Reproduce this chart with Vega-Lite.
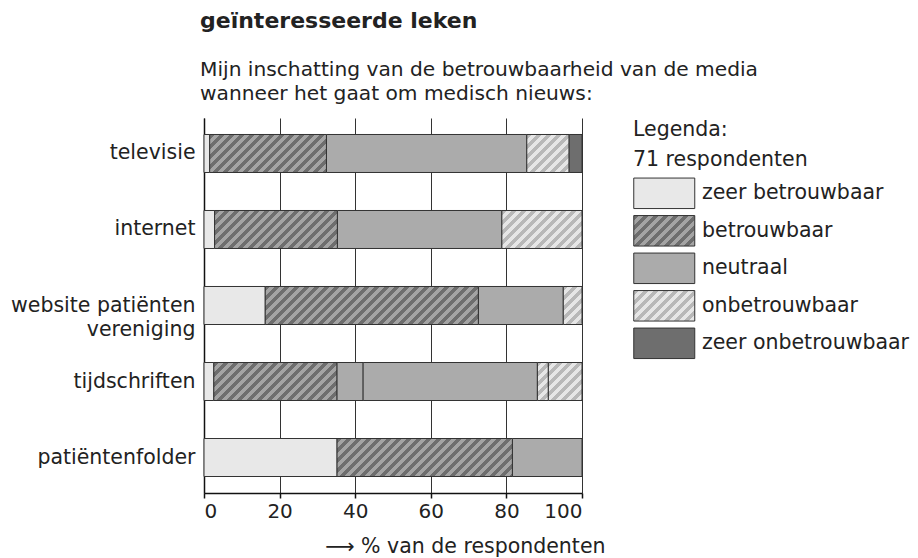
{
  "$schema": "https://vega.github.io/schema/vega-lite/v6.json",
  "width": 378,
  "height": 375,
  "autosize": {"type": "none"},
  "padding": {"left": 204, "top": 118, "right": 336, "bottom": 65},
  "background": "white",
  "config": {"font": "DejaVu Sans", "view": {"stroke": null}},
  "title": {
    "text": "geïnteresseerde leken",
    "subtitle": ["Mijn inschatting van de betrouwbaarheid van de media", "wanneer het gaat om medisch nieuws:"],
    "anchor": "start",
    "frame": "group",
    "font": "DejaVu Sans",
    "fontSize": 22,
    "fontWeight": "bold",
    "color": "#222",
    "subtitleFont": "DejaVu Sans",
    "subtitleFontSize": 20.2,
    "subtitleColor": "#222",
    "subtitleLineHeight": 23.5,
    "subtitlePadding": 27.5,
    "offset": 13,
    "dx": -4
  },
  "params": [
    {"name": "stripesB", "value": [
      {"offset":0,"color":"#6e6e6e"},{"offset":0.02,"color":"#6e6e6e"},{"offset":0.02,"color":"#a4a4a4"},{"offset":0.04,"color":"#a4a4a4"},
      {"offset":0.04,"color":"#6e6e6e"},{"offset":0.06,"color":"#6e6e6e"},{"offset":0.06,"color":"#a4a4a4"},{"offset":0.08,"color":"#a4a4a4"},
      {"offset":0.08,"color":"#6e6e6e"},{"offset":0.1,"color":"#6e6e6e"},{"offset":0.1,"color":"#a4a4a4"},{"offset":0.12,"color":"#a4a4a4"},
      {"offset":0.12,"color":"#6e6e6e"},{"offset":0.14,"color":"#6e6e6e"},{"offset":0.14,"color":"#a4a4a4"},{"offset":0.16,"color":"#a4a4a4"},
      {"offset":0.16,"color":"#6e6e6e"},{"offset":0.18,"color":"#6e6e6e"},{"offset":0.18,"color":"#a4a4a4"},{"offset":0.2,"color":"#a4a4a4"},
      {"offset":0.2,"color":"#6e6e6e"},{"offset":0.22,"color":"#6e6e6e"},{"offset":0.22,"color":"#a4a4a4"},{"offset":0.24,"color":"#a4a4a4"},
      {"offset":0.24,"color":"#6e6e6e"},{"offset":0.26,"color":"#6e6e6e"},{"offset":0.26,"color":"#a4a4a4"},{"offset":0.28,"color":"#a4a4a4"},
      {"offset":0.28,"color":"#6e6e6e"},{"offset":0.3,"color":"#6e6e6e"},{"offset":0.3,"color":"#a4a4a4"},{"offset":0.32,"color":"#a4a4a4"},
      {"offset":0.32,"color":"#6e6e6e"},{"offset":0.34,"color":"#6e6e6e"},{"offset":0.34,"color":"#a4a4a4"},{"offset":0.36,"color":"#a4a4a4"},
      {"offset":0.36,"color":"#6e6e6e"},{"offset":0.38,"color":"#6e6e6e"},{"offset":0.38,"color":"#a4a4a4"},{"offset":0.4,"color":"#a4a4a4"},
      {"offset":0.4,"color":"#6e6e6e"},{"offset":0.42,"color":"#6e6e6e"},{"offset":0.42,"color":"#a4a4a4"},{"offset":0.44,"color":"#a4a4a4"},
      {"offset":0.44,"color":"#6e6e6e"},{"offset":0.46,"color":"#6e6e6e"},{"offset":0.46,"color":"#a4a4a4"},{"offset":0.48,"color":"#a4a4a4"},
      {"offset":0.48,"color":"#6e6e6e"},{"offset":0.5,"color":"#6e6e6e"},{"offset":0.5,"color":"#a4a4a4"},{"offset":0.52,"color":"#a4a4a4"},
      {"offset":0.52,"color":"#6e6e6e"},{"offset":0.54,"color":"#6e6e6e"},{"offset":0.54,"color":"#a4a4a4"},{"offset":0.56,"color":"#a4a4a4"},
      {"offset":0.56,"color":"#6e6e6e"},{"offset":0.58,"color":"#6e6e6e"},{"offset":0.58,"color":"#a4a4a4"},{"offset":0.6,"color":"#a4a4a4"},
      {"offset":0.6,"color":"#6e6e6e"},{"offset":0.62,"color":"#6e6e6e"},{"offset":0.62,"color":"#a4a4a4"},{"offset":0.64,"color":"#a4a4a4"},
      {"offset":0.64,"color":"#6e6e6e"},{"offset":0.66,"color":"#6e6e6e"},{"offset":0.66,"color":"#a4a4a4"},{"offset":0.68,"color":"#a4a4a4"},
      {"offset":0.68,"color":"#6e6e6e"},{"offset":0.7,"color":"#6e6e6e"},{"offset":0.7,"color":"#a4a4a4"},{"offset":0.72,"color":"#a4a4a4"},
      {"offset":0.72,"color":"#6e6e6e"},{"offset":0.74,"color":"#6e6e6e"},{"offset":0.74,"color":"#a4a4a4"},{"offset":0.76,"color":"#a4a4a4"},
      {"offset":0.76,"color":"#6e6e6e"},{"offset":0.78,"color":"#6e6e6e"},{"offset":0.78,"color":"#a4a4a4"},{"offset":0.8,"color":"#a4a4a4"},
      {"offset":0.8,"color":"#6e6e6e"},{"offset":0.82,"color":"#6e6e6e"},{"offset":0.82,"color":"#a4a4a4"},{"offset":0.84,"color":"#a4a4a4"},
      {"offset":0.84,"color":"#6e6e6e"},{"offset":0.86,"color":"#6e6e6e"},{"offset":0.86,"color":"#a4a4a4"},{"offset":0.88,"color":"#a4a4a4"},
      {"offset":0.88,"color":"#6e6e6e"},{"offset":0.9,"color":"#6e6e6e"},{"offset":0.9,"color":"#a4a4a4"},{"offset":0.92,"color":"#a4a4a4"},
      {"offset":0.92,"color":"#6e6e6e"},{"offset":0.94,"color":"#6e6e6e"},{"offset":0.94,"color":"#a4a4a4"},{"offset":0.96,"color":"#a4a4a4"},
      {"offset":0.96,"color":"#6e6e6e"},{"offset":0.98,"color":"#6e6e6e"},{"offset":0.98,"color":"#a4a4a4"},{"offset":1,"color":"#a4a4a4"}
    ]},
    {"name": "stripesO", "value": [
      {"offset":0,"color":"#b8b8b8"},{"offset":0.04,"color":"#b8b8b8"},{"offset":0.04,"color":"#e6e6e6"},{"offset":0.08,"color":"#e6e6e6"},
      {"offset":0.08,"color":"#b8b8b8"},{"offset":0.12,"color":"#b8b8b8"},{"offset":0.12,"color":"#e6e6e6"},{"offset":0.16,"color":"#e6e6e6"},
      {"offset":0.16,"color":"#b8b8b8"},{"offset":0.2,"color":"#b8b8b8"},{"offset":0.2,"color":"#e6e6e6"},{"offset":0.24,"color":"#e6e6e6"},
      {"offset":0.24,"color":"#b8b8b8"},{"offset":0.28,"color":"#b8b8b8"},{"offset":0.28,"color":"#e6e6e6"},{"offset":0.32,"color":"#e6e6e6"},
      {"offset":0.32,"color":"#b8b8b8"},{"offset":0.36,"color":"#b8b8b8"},{"offset":0.36,"color":"#e6e6e6"},{"offset":0.4,"color":"#e6e6e6"},
      {"offset":0.4,"color":"#b8b8b8"},{"offset":0.44,"color":"#b8b8b8"},{"offset":0.44,"color":"#e6e6e6"},{"offset":0.48,"color":"#e6e6e6"},
      {"offset":0.48,"color":"#b8b8b8"},{"offset":0.52,"color":"#b8b8b8"},{"offset":0.52,"color":"#e6e6e6"},{"offset":0.56,"color":"#e6e6e6"},
      {"offset":0.56,"color":"#b8b8b8"},{"offset":0.6,"color":"#b8b8b8"},{"offset":0.6,"color":"#e6e6e6"},{"offset":0.64,"color":"#e6e6e6"},
      {"offset":0.64,"color":"#b8b8b8"},{"offset":0.68,"color":"#b8b8b8"},{"offset":0.68,"color":"#e6e6e6"},{"offset":0.72,"color":"#e6e6e6"},
      {"offset":0.72,"color":"#b8b8b8"},{"offset":0.76,"color":"#b8b8b8"},{"offset":0.76,"color":"#e6e6e6"},{"offset":0.8,"color":"#e6e6e6"},
      {"offset":0.8,"color":"#b8b8b8"},{"offset":0.84,"color":"#b8b8b8"},{"offset":0.84,"color":"#e6e6e6"},{"offset":0.88,"color":"#e6e6e6"},
      {"offset":0.88,"color":"#b8b8b8"},{"offset":0.92,"color":"#b8b8b8"},{"offset":0.92,"color":"#e6e6e6"},{"offset":0.96,"color":"#e6e6e6"},
      {"offset":0.96,"color":"#b8b8b8"},{"offset":1,"color":"#b8b8b8"}
    ]}
  ],
  "data": {"values": [
    {"media": "televisie", "resp": "zeer betrouwbaar", "pct": 1.5, "k": 1},
    {"media": "televisie", "resp": "betrouwbaar", "pct": 30.9, "k": 2},
    {"media": "televisie", "resp": "neutraal", "pct": 53.0, "k": 3},
    {"media": "televisie", "resp": "onbetrouwbaar", "pct": 11.2, "k": 4},
    {"media": "televisie", "resp": "zeer onbetrouwbaar", "pct": 3.4, "k": 5},
    {"media": "internet", "resp": "zeer betrouwbaar", "pct": 2.8, "k": 1},
    {"media": "internet", "resp": "betrouwbaar", "pct": 32.5, "k": 2},
    {"media": "internet", "resp": "neutraal", "pct": 43.5, "k": 3},
    {"media": "internet", "resp": "onbetrouwbaar", "pct": 21.2, "k": 4},
    {"media": "website patiënten vereniging", "resp": "zeer betrouwbaar", "pct": 16.2, "k": 1},
    {"media": "website patiënten vereniging", "resp": "betrouwbaar", "pct": 56.4, "k": 2},
    {"media": "website patiënten vereniging", "resp": "neutraal", "pct": 22.45, "k": 3},
    {"media": "website patiënten vereniging", "resp": "onbetrouwbaar", "pct": 4.95, "k": 4},
    {"media": "tijdschriften", "resp": "zeer betrouwbaar", "pct": 2.6, "k": 1},
    {"media": "tijdschriften", "resp": "betrouwbaar", "pct": 32.6, "k": 2},
    {"media": "tijdschriften", "resp": "neutraal", "pct": 6.9, "k": 3},
    {"media": "tijdschriften", "resp": "neutraal", "pct": 46.1, "k": 4},
    {"media": "tijdschriften", "resp": "onbetrouwbaar", "pct": 2.9, "k": 5},
    {"media": "tijdschriften", "resp": "onbetrouwbaar", "pct": 8.9, "k": 6},
    {"media": "patiëntenfolder", "resp": "zeer betrouwbaar", "pct": 35.2, "k": 1},
    {"media": "patiëntenfolder", "resp": "betrouwbaar", "pct": 46.4, "k": 2},
    {"media": "patiëntenfolder", "resp": "neutraal", "pct": 18.4, "k": 3}
  ]},
  "transform": [
    {"stack": "pct", "groupby": ["media"], "sort": [{"field": "k", "order": "ascending"}], "as": ["x0", "x1"]}
  ],
  "mark": {"type": "bar", "stroke": "#333", "strokeWidth": 1},
  "encoding": {
    "y": {
      "field": "media", "type": "nominal",
      "sort": ["televisie", "internet", "website patiënten vereniging", "tijdschriften", "patiëntenfolder"],
      "scale": {"paddingInner": 0.5, "paddingOuter": 0.217},
      "axis": {
        "title": null, "ticks": false, "grid": false,
        "domainColor": "#111", "domainWidth": 1.5,
        "labelFontSize": 20.5, "labelColor": "#222", "labelPadding": 9, "labelLimit": 300,
        "labelLineHeight": 24,
        "labelExpr": "datum.value === 'website patiënten vereniging' ? ['website patiënten', 'vereniging'] : datum.value"
      }
    },
    "x": {
      "field": "x0", "type": "quantitative",
      "scale": {"domain": [0, 100], "nice": false},
      "axis": {
        "values": [0, 20, 40, 60, 80, 100],
        "grid": true, "gridColor": "#333", "gridWidth": 1,
        "domainColor": "#111", "domainWidth": 1.5,
        "tickColor": "#111", "tickSize": 5, "tickWidth": 1.5,
        "labelFontSize": 20, "labelColor": "#222", "labelPadding": 3,
        "title": "⟶ % van de respondenten",
        "titleFontSize": 20.5, "titleFontWeight": "normal", "titleColor": "#222",
        "titleX": 401, "titleY": 59, "titleAlign": "right", "titleBaseline": "alphabetic"
      }
    },
    "x2": {"field": "x1"},
    "fill": {
      "condition": [
        {"test": "datum.resp === 'betrouwbaar'", "value": {"expr": "{gradient:'linear',x1:0,y1:0,x2:(scale('x',datum.x1)-scale('x',datum.x0))*250/(pow(scale('x',datum.x1)-scale('x',datum.x0),2)+pow(bandwidth('y'),2)),y2:bandwidth('y')*250/(pow(scale('x',datum.x1)-scale('x',datum.x0),2)+pow(bandwidth('y'),2)),stops:stripesB}"}},
        {"test": "datum.resp === 'onbetrouwbaar'", "value": {"expr": "{gradient:'linear',x1:0,y1:0,x2:(scale('x',datum.x1)-scale('x',datum.x0))*125/(pow(scale('x',datum.x1)-scale('x',datum.x0),2)+pow(bandwidth('y'),2)),y2:bandwidth('y')*125/(pow(scale('x',datum.x1)-scale('x',datum.x0),2)+pow(bandwidth('y'),2)),stops:stripesO}"}}
      ],
      "field": "resp", "type": "nominal",
      "scale": {
        "domain": ["zeer betrouwbaar", "betrouwbaar", "neutraal", "onbetrouwbaar", "zeer onbetrouwbaar"],
        "range": [
          "#e8e8e8",
          {"expr": "{gradient:'linear',x1:0,y1:0,x2:3.2788,y2:1.6394,stops:stripesB}"},
          "#ababab",
          {"expr": "{gradient:'linear',x1:0,y1:0,x2:1.6394,y2:0.8197,stops:stripesO}"},
          "#6e6e6e"
        ]
      },
      "legend": {
        "title": ["Legenda:", "71 respondenten"],
        "orient": "none", "legendX": 429, "legendY": 2.3,
        "padding": 0,
        "titleFontSize": 20.5, "titleFontWeight": "normal", "titleColor": "#222",
        "titleLineHeight": 30, "titlePadding": 6.5, "titleBaseline": "top",
        "symbolType": "M-1,-1H3V1H-1Z", "symbolSize": 930.25,
        "symbolStrokeColor": "#333", "symbolStrokeWidth": 1, "symbolOpacity": 1,
        "labelFontSize": 20.5, "labelColor": "#222", "labelOffset": 37, "labelLimit": 400,
        "rowPadding": 1.5
      }
    }
  }
}
